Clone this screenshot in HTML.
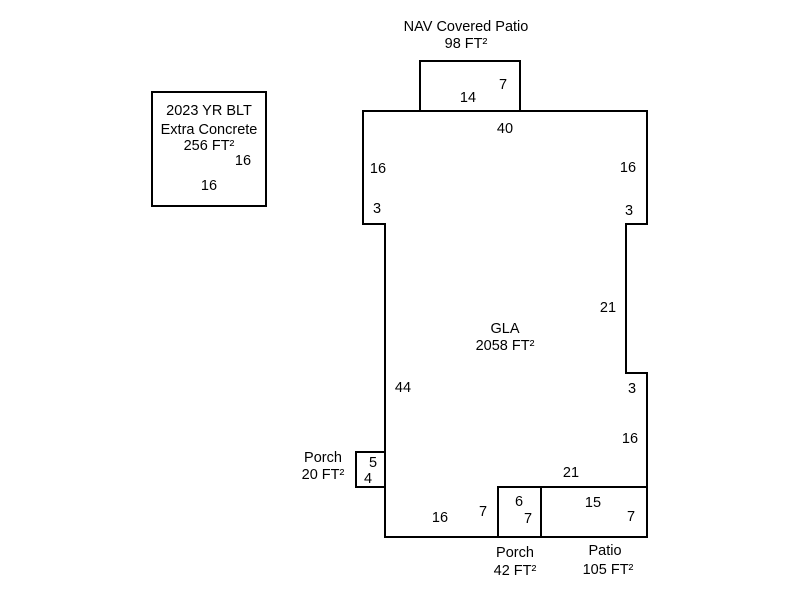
<!DOCTYPE html>
<html><head><style>
body{margin:0;width:800px;height:600px;background:#fff;overflow:hidden}
svg text{font-family:"Liberation Sans",Arial,sans-serif;font-size:14.5px;fill:#000}
</style></head><body>
<svg width="800" height="600" xmlns="http://www.w3.org/2000/svg">
<g fill="none" stroke="#000" stroke-width="2">
<rect x="152" y="92" width="114" height="114"/>
<rect x="420" y="61" width="100" height="50"/>
<path d="M363 111 H647 V224 H626 V373 H647 V537 H385 V224 H363 Z"/>
<rect x="356" y="452" width="29" height="35"/>
<rect x="498" y="487" width="43" height="50"/>
<rect x="541" y="487" width="106" height="50"/>
</g>
<g text-anchor="middle">
<text x="209" y="115">2023 YR BLT</text>
<text x="209" y="134">Extra Concrete</text>
<text x="209" y="150">256 FT²</text>
<text x="243" y="165">16</text>
<text x="209" y="190">16</text>
<text x="466" y="31">NAV Covered Patio</text>
<text x="466" y="48">98 FT²</text>
<text x="503" y="89">7</text>
<text x="468" y="102">14</text>
<text x="505" y="133">40</text>
<text x="378" y="173">16</text>
<text x="628" y="172">16</text>
<text x="377" y="213">3</text>
<text x="629" y="215">3</text>
<text x="608" y="312">21</text>
<text x="505" y="333">GLA</text>
<text x="505" y="350">2058 FT²</text>
<text x="403" y="392">44</text>
<text x="632" y="393">3</text>
<text x="630" y="443">16</text>
<text x="571" y="477">21</text>
<text x="323" y="462">Porch</text>
<text x="323" y="479">20 FT²</text>
<text x="373" y="467">5</text>
<text x="368" y="483">4</text>
<text x="440" y="522">16</text>
<text x="483" y="516">7</text>
<text x="519" y="506">6</text>
<text x="528" y="523">7</text>
<text x="593" y="507">15</text>
<text x="631" y="521">7</text>
<text x="515" y="557">Porch</text>
<text x="515" y="575">42 FT²</text>
<text x="605" y="555">Patio</text>
<text x="608" y="574">105 FT²</text>
</g>
</svg>
</body></html>
